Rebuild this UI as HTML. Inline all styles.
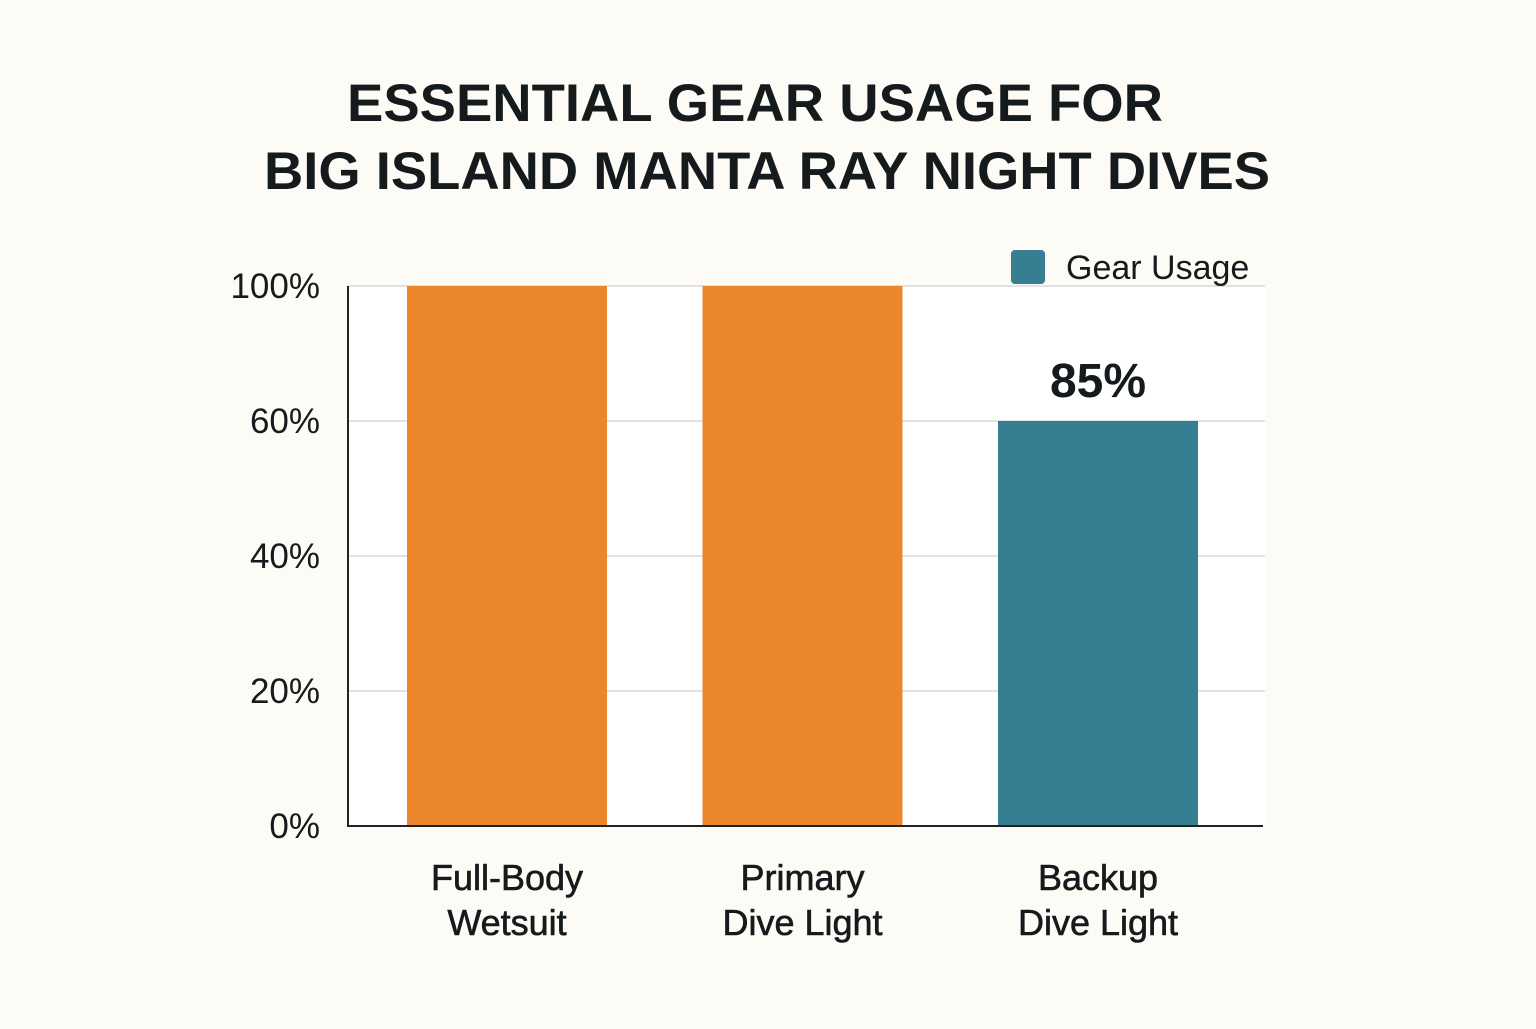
<!DOCTYPE html>
<html><head><meta charset="utf-8"><style>
html,body{margin:0;padding:0;background:#fcfbf5;}
body{width:1536px;height:1024px;overflow:hidden;font-family:"Liberation Sans",sans-serif;}
</style></head><body>
<svg width="1536" height="1024" xmlns="http://www.w3.org/2000/svg">
<rect width="1536" height="1024" fill="#fcfbf5"/>
<g font-family="Liberation Sans, sans-serif" font-weight="bold" font-size="53" fill="#151a1c">
<text x="347" y="121" textLength="816" lengthAdjust="spacingAndGlyphs">ESSENTIAL GEAR USAGE FOR</text>
<text x="264" y="189" textLength="1006" lengthAdjust="spacingAndGlyphs">BIG ISLAND MANTA RAY NIGHT DIVES</text>
</g>
<rect x="348" y="286" width="917" height="540" fill="#ffffff"/>
<g id="grid"></g>
<g id="bars"></g>
<g id="yticks"></g>
<g id="xlabels"></g>
<g id="vals"></g>
<line x1="348" y1="286" x2="348" y2="827" stroke="#222" stroke-width="2"/>
<line x1="347" y1="826" x2="1263" y2="826" stroke="#222" stroke-width="2"/>
<rect x="1000" y="240" width="262" height="45" fill="#fcfbf5"/>
<g>
<rect x="1011" y="250" width="34" height="34" rx="4" fill="#367f93"/>
<text x="1066" y="279" font-size="34" fill="#151a1c">Gear Usage</text>
</g>
</svg>
<script>
const categories = [["Full-Body","Wetsuit"],["Primary","Dive Light"],["Backup","Dive Light"]];
const values = [80, 80, 60];
const valueLabels = ["", "", "85%"];
const tickValues = [0, 20, 40, 60, 80];
const tickLabels = ["0%", "20%", "40%", "60%", "100%"];
const colors = ["#ec862c", "#ec862c", "#367f93"];

const NS = "http://www.w3.org/2000/svg";
const y0 = 826, yTop = 286, maxV = 80;
function yScale(v){ return y0 - (v / maxV) * (y0 - yTop); }
const barW = 200;
function xCenter(i){ return 507 + i * 295.5; }
function mk(tag, attrs){ const e=document.createElementNS(NS,tag); for(const k in attrs) e.setAttribute(k,attrs[k]); return e; }

const grid=document.getElementById('grid'), yt=document.getElementById('yticks');
tickValues.forEach((t,i)=>{
  const y=yScale(t);
  if(t>0){
    const l=mk('line',{x1:348,x2:1265,y1:y,y2:y,stroke:'#d0d0d0','stroke-width':1.2});
    
    
    grid.appendChild(l);
  }
  const tx=mk('text',{x:320,y:y+12,'font-size':35,fill:'#151a1c','text-anchor':'end'});
  
  
  tx.textContent=tickLabels[i];
  yt.appendChild(tx);
});
const bars=document.getElementById('bars'), xl=document.getElementById('xlabels'), vl=document.getElementById('vals');
values.forEach((v,i)=>{
  const cx=xCenter(i), y=yScale(v);
  const r=mk('rect',{x:cx-barW/2,y:y,width:barW,height:y0-y,fill:colors[i]});
  
  
  bars.appendChild(r);
  categories[i].forEach((line,j)=>{
    const t=mk('text',{x:cx,y:890+j*45,'font-size':36,fill:'#151a1c','text-anchor':'middle',stroke:'#151a1c','stroke-width':0.6});
    
    
    t.textContent=line;
    xl.appendChild(t);
  });
  if(valueLabels[i]){
    const t=mk('text',{x:cx,y:y-24,'font-size':48,'font-weight':'bold',fill:'#151a1c','text-anchor':'middle'});
    
    
    t.textContent=valueLabels[i];
    vl.appendChild(t);
  }
});
</script>
</body></html>
